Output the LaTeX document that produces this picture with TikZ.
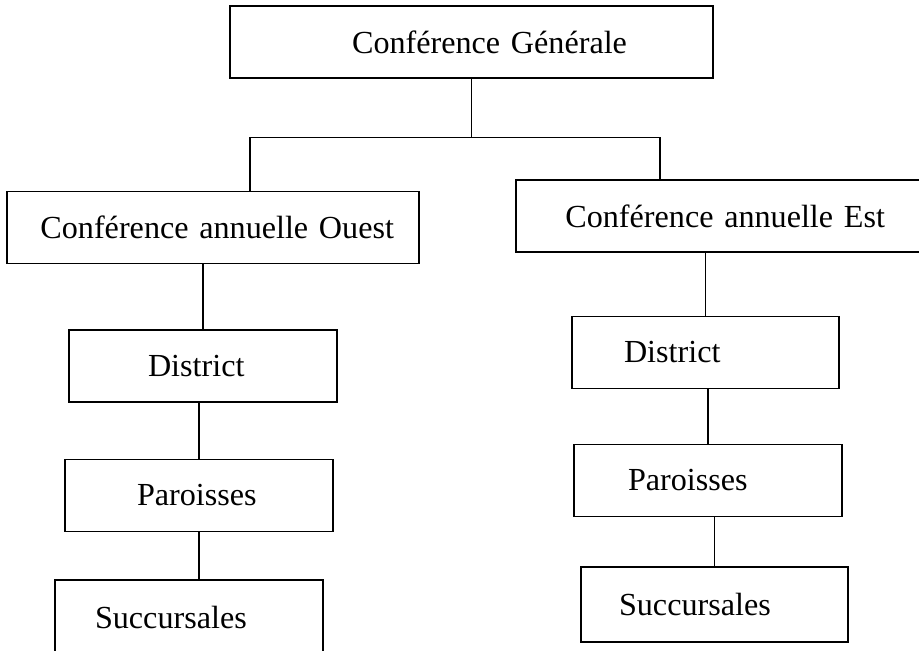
\documentclass[tikz,border=0pt]{standalone}
\usepackage{fontspec}
\setmainfont{Liberation Serif}
\usepackage{tikz}
\usetikzlibrary{calc,positioning}
\tikzset{
      orgbox/.style 2 args={
        draw=black,
        line width=0.9pt,
        inner xsep=#1,
        text width=#2,
        minimum height=1.44cm,
        font=\fontsize{18.3}{22}\selectfont
      },
      lien/.style={
        draw=black,
        line width=0.8pt
      },
    }
\begin{document}
\begin{tikzpicture}[x=0.02cm,y=-0.02cm]

            \useasboundingbox (0,0) rectangle (919,651);

            %Conference generale
            \node[orgbox={1.72cm}{6.22cm},align=right]
              (confGen) at (471.5,42)
              {Conférence Générale};

            %Branche Ouest
            \node[orgbox={0.5cm}{7.24cm},align=right]
              (confOuest) at (213,227.5)
              {Conférence annuelle Ouest};
            \node[orgbox={1.58cm}{2.2cm},align=left]
              (districtOuest) at (203,366)
              {District};
            \node[orgbox={1.44cm}{2.48cm},align=left]
              (paroissesOuest) at (199,495.5)
              {Paroisses};
            \node[orgbox={0.8cm}{3.76cm},align=left,minimum height=1.52cm]
              (succOuest) at (189,618)
              {Succursales};

            %Branche Est
            \node[orgbox={0.74cm}{6.64cm},align=right]
              (confEst) at (719,216)
              {Conférence annuelle Est};
            \node[orgbox={1.04cm}{3.26cm},align=left]
              (districtEst) at (705.5,352.5)
              {District};
            \node[orgbox={1.08cm}{3.2cm},align=left]
              (paroissesEst) at (708,480.5)
              {Paroisses};
            \node[orgbox={0.76cm}{3.82cm},align=left,minimum height=1.5cm]
              (succEst) at (714.5,604.5)
              {Succursales};

            %Liaisons
            \draw[lien] (confGen.south) -- ++(0,59) coordinate (bus);
            \draw[lien] ($(confOuest.north)+(37,0)$) |- (bus) -| ($(confEst.north)+(-59,0)$);
            \draw[lien] (districtOuest.north) -- (districtOuest.north |- confOuest.south);
            \draw[lien] (paroissesOuest.north) -- (paroissesOuest.north |- districtOuest.south);
            \draw[lien] (paroissesOuest.south) -- (paroissesOuest.south |- succOuest.north);
            \draw[lien] (districtEst.north) -- (districtEst.north |- confEst.south);
            \draw[lien] (paroissesEst.north) -- (paroissesEst.north |- districtEst.south);
            \draw[lien] (succEst.north) -- (succEst.north |- paroissesEst.south);

          \end{tikzpicture}
\end{document}
